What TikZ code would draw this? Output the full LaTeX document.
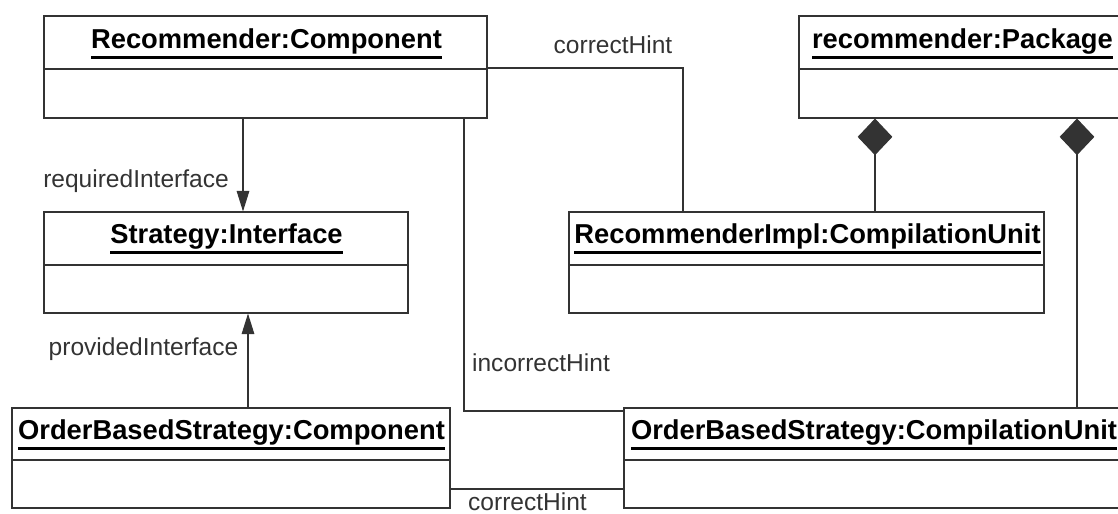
\documentclass[tikz,border=0pt]{standalone}
\usepackage{fontspec}
\setmainfont{Liberation Sans}
\usetikzlibrary{arrows.meta,fit}
\definecolor{ink}{HTML}{333333}
% bold title with a heavy underline, as in UML object names
\newcommand\objname[1]{\vtop{\hbox{\bfseries #1}\kern1.4pt\hrule height 2.4pt}}
\begin{document}
\begin{tikzpicture}[x=0.75pt,y=-0.75pt,
  umlbox/.style={draw=ink, line width=0.8pt, inner sep=0pt},
  divider/.style={draw=ink, line width=0.8pt},
  conn/.style={draw=ink, line width=0.8pt},
  objtitle/.style={anchor=base, inner sep=0pt, text=black, font=\fontsize{20.5pt}{24pt}\selectfont},
  lbl/.style={anchor=base, inner sep=0pt, text=ink, font=\fontsize{18.4pt}{22pt}\selectfont},
  reqarrow/.style={-{Triangle[length=15.5pt,width=9.5pt]}, fill=ink},
  composition/.style={{Diamond[length=27.5pt,width=26pt]}-, fill=ink}]
\useasboundingbox (0,0) rectangle (1118,514);
\clip (0,0) rectangle (1118,514);

% object boxes
\node[umlbox, fit={(44,16) (487,118)}] (rc) {};
\node[umlbox, fit={(799,16) (1126,118)}] (pkg) {};
\node[umlbox, fit={(44,212) (408,313)}] (si) {};
\node[umlbox, fit={(569,212) (1044,313)}] (impl) {};
\node[umlbox, fit={(12,408) (450,508)}] (obc) {};
\node[umlbox, fit={(624,408) (1124,508)}] (obu) {};

% header dividers
\draw[divider] (rc.west |- 0,69) -- (rc.east |- 0,69);
\draw[divider] (pkg.west |- 0,69) -- (pkg.east |- 0,69);
\draw[divider] (si.west |- 0,265) -- (si.east |- 0,265);
\draw[divider] (impl.west |- 0,265) -- (impl.east |- 0,265);
\draw[divider] (obc.west |- 0,460) -- (obc.east |- 0,460);
\draw[divider] (obu.west |- 0,460) -- (obu.east |- 0,460);

% object names
\node[objtitle] (rct) at (266.5,48) {\objname{Recommender:Component}};
\node[objtitle] (pkgt) at (962.5,48) {\objname{recommender:Package}};
\node[objtitle] (sit) at (226.5,243) {\objname{Strategy:Interface}};
\node[objtitle] (implt) at (807.5,243) {\objname{RecommenderImpl:CompilationUnit}};
\node[objtitle] (obct) at (231.5,439) {\objname{OrderBasedStrategy:Component}};
\node[objtitle] (obut) at (874,439) {\objname{OrderBasedStrategy:CompilationUnit}};

% links
\draw[conn, reqarrow] (rc.south -| 243,0) -- (si.north -| 243,0);
\draw[conn, reqarrow] (obc.north -| 248,0) -- (si.south -| 248,0);
\draw[conn] (rc.east |- 0,68) -| (impl.north -| 683,0);
\draw[conn] (rc.south -| 464,0) |- (obu.west |- 0,411);
\draw[conn] (obc.east |- 0,489) -- (obu.west |- 0,489);
\draw[conn, composition] (pkg.south -| 875,0) -- (impl.north -| 875,0);
\draw[conn, composition] (pkg.south -| 1077,0) -- (obu.north -| 1077,0);

% link labels
\node[lbl] (l1) at (613,53) {correctHint};
\node[lbl] (l2) at (136,187) {requiredInterface};
\node[lbl] (l3) at (143.5,355) {providedInterface};
\node[lbl] (l4) at (541,371) {incorrectHint};
\node[lbl] (l5) at (527.5,510) {correctHint};
\end{tikzpicture}
\end{document}
